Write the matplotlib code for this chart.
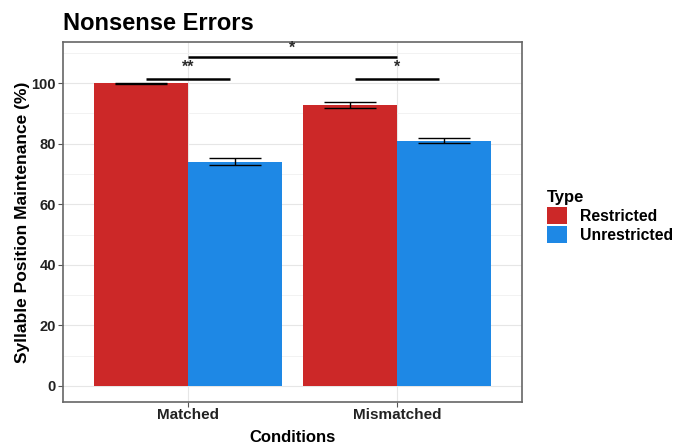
import matplotlib
matplotlib.use("Agg")
import matplotlib.pyplot as plt
import numpy as np
from matplotlib.patches import Patch

conditions = ["Matched", "Mismatched"]
types = ["Restricted", "Unrestricted"]
restricted = [100.0, 92.8]
restricted_err = [0.15, 1.0]
unrestricted = [74.1, 81.0]
unrestricted_err = [1.1, 0.7]
colors = ["#CC2828", "#1E88E5"]

# significance annotations: (x1, x2, y, label, label_x, label_y)
sig_lines = [(0.8, 1.2, 101.2, "**", 1.0, 102.6),
             (1.8, 2.2, 101.2, "*", 2.0, 102.6),
             (1.0, 2.0, 108.5, "*", 1.5, 109.0)]

plt.rcParams['font.family'] = ['Liberation Sans', 'DejaVu Sans']
fig = plt.figure(figsize=(6.85, 4.44), dpi=100)
ax = fig.add_axes([0.092, 0.0946, 0.670, 0.8104])

x = np.arange(1, len(conditions) + 1)
w = 0.45
ax.bar(x - w/2, restricted, width=w, color=colors[0], zorder=2)
ax.bar(x + w/2, unrestricted, width=w, color=colors[1], zorder=2)
ax.errorbar(x - w/2, restricted, yerr=restricted_err, fmt='none', ecolor='black',
            elinewidth=1.0, capsize=18.7, capthick=1.0, zorder=3)
ax.errorbar(x + w/2, unrestricted, yerr=unrestricted_err, fmt='none', ecolor='black',
            elinewidth=1.0, capsize=18.7, capthick=1.0, zorder=3)

for x1, x2, y, lab, lx, ly in sig_lines:
    ax.plot([x1, x2], [y, y], color='black', lw=1.8, zorder=4, solid_capstyle='butt')
    ax.text(lx, ly, lab, ha='center', va='bottom', fontsize=11.5, fontweight='bold', color='#2a2a2a')

ax.set_xlim(0.4, 2.6)
ax.set_ylim(-5.3, 113.5)
ax.set_xticks(x)
ax.set_xticklabels(conditions, fontsize=11, fontweight='bold')
ax.set_yticks([0, 20, 40, 60, 80, 100])
ax.set_yticklabels(["0", "20", "40", "60", "80", "100"], fontsize=10.5, fontweight='bold')
ax.set_yticks([10, 30, 50, 70, 90, 110], minor=True)
ax.tick_params(axis='y', which='minor', length=0)
ax.tick_params(axis='both', which='major', length=3.5, color='#555555', colors='#222222')
ax.tick_params(axis='y', which='major', pad=1.5)
ax.tick_params(axis='x', which='major', pad=0.8)
ax.grid(True, which='major', color='#E6E6E6', lw=0.8, zorder=0)
ax.grid(True, which='minor', axis='y', color='#F0F0F0', lw=0.6, zorder=0)
ax.set_axisbelow(True)
for s in ax.spines.values():
    s.set_color('#666666')
    s.set_linewidth(1.2)

ax.set_xlabel("Conditions", fontsize=12, fontweight='bold', labelpad=5.5)
ax.set_ylabel("Syllable Position Maintenance (%)", fontsize=12.5, fontweight='bold', labelpad=1.2)
fig.text(0.092, 0.933, "Nonsense Errors", fontsize=17, fontweight='bold', ha='left', va='baseline')

handles = [Patch(facecolor=colors[0], label=types[0]), Patch(facecolor=colors[1], label=types[1])]
leg = fig.legend(handles=handles, title="Type", loc='center left', bbox_to_anchor=(0.782, 0.512),
                 frameon=False, fontsize=11.3, title_fontproperties={'weight': 'bold', 'size': 12},
                 handlelength=1.3, handleheight=1.3, handletextpad=0.8, labelspacing=0.12,
                 borderpad=0.2)
leg._legend_box.align = "left"
for t in leg.get_texts():
    t.set_fontweight('bold')

fig.savefig("out.png", dpi=100)
